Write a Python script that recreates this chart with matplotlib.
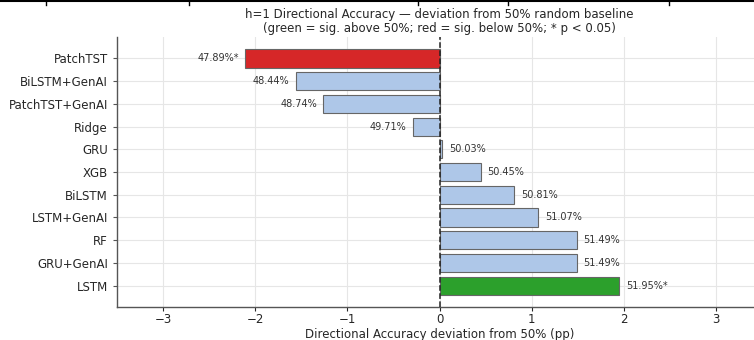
import numpy as np
import matplotlib.pyplot as plt

# h=1 directional accuracy per model (%), sorted top to bottom
models = ["PatchTST", "BiLSTM+GenAI", "PatchTST+GenAI", "Ridge", "GRU", "XGB",
          "BiLSTM", "LSTM+GenAI", "RF", "GRU+GenAI", "LSTM"]
accuracy = [47.89, 48.44, 48.74, 49.71, 50.03, 50.45, 50.81, 51.07, 51.49, 51.49, 51.95]
# significance vs 50% baseline: -1 = below, 0 = n.s., +1 = above
signif = [-1, 0, 0, 0, 0, 0, 0, 0, 0, 0, 1]

baseline = 50.0
dev = np.array(accuracy) - baseline
colors = {-1: "#d62728", 0: "#aec7e8", 1: "#2ca02c"}
bar_colors = [colors[s] for s in signif]

fig = plt.figure(figsize=(7.54, 3.40), dpi=100)
ax = fig.add_axes([0.155, 0.097, 0.856, 0.794])

y = np.arange(len(models))
ax.barh(y, dev, color=bar_colors, edgecolor="#666666", linewidth=0.8, height=0.8, zorder=3)
ax.invert_yaxis()
ax.set_yticks(y)
ax.set_yticklabels(models, fontsize=8.5, color="#262626")

for yi, d, acc, s in zip(y, dev, accuracy, signif):
    txt = "{:.2f}%".format(acc) + ("*" if s != 0 else "")
    if d >= 0:
        ax.text(d + 0.07, yi, txt, va="center", ha="left", fontsize=7, color="#333333")
    else:
        ax.text(d - 0.07, yi, txt, va="center", ha="right", fontsize=7, color="#333333")

ax.axvline(0, color="#222222", linestyle="--", linewidth=1.1, zorder=4)
ax.set_xlim(-3.5, 3.5)
ax.set_xticks([-3, -2, -1, 0, 1, 2, 3])
ax.tick_params(axis="both", length=3, color="#555555")
ax.tick_params(axis="x", labelsize=8.5, colors="#262626", pad=1.5)
ax.grid(True, color="#e6e6e6", linewidth=0.8, zorder=0)
ax.set_axisbelow(True)

for side in ["top", "right"]:
    ax.spines[side].set_visible(False)
for side in ["left", "bottom"]:
    ax.spines[side].set_color("#555555")
    ax.spines[side].set_linewidth(1.0)

ax.set_xlabel("Directional Accuracy deviation from 50% (pp)", fontsize=8.5, color="#262626", labelpad=1)
ax.set_title("h=1 Directional Accuracy \u2014 deviation from 50% random baseline\n"
             "(green = sig. above 50%; red = sig. below 50%; * p < 0.05)",
             fontsize=8.5, color="#262626", pad=4, linespacing=1.1)

# rule of the table above
fig.add_artist(plt.Line2D([0, 1], [0.996, 0.996], color="black", linewidth=1.5, transform=fig.transFigure))
for xr in [0.061, 0.251, 0.554, 0.674, 0.887]:
    fig.add_artist(plt.Line2D([xr, xr], [0.985, 1.0], color="black", linewidth=1.0, transform=fig.transFigure))

fig.savefig("out.png", dpi=100)
